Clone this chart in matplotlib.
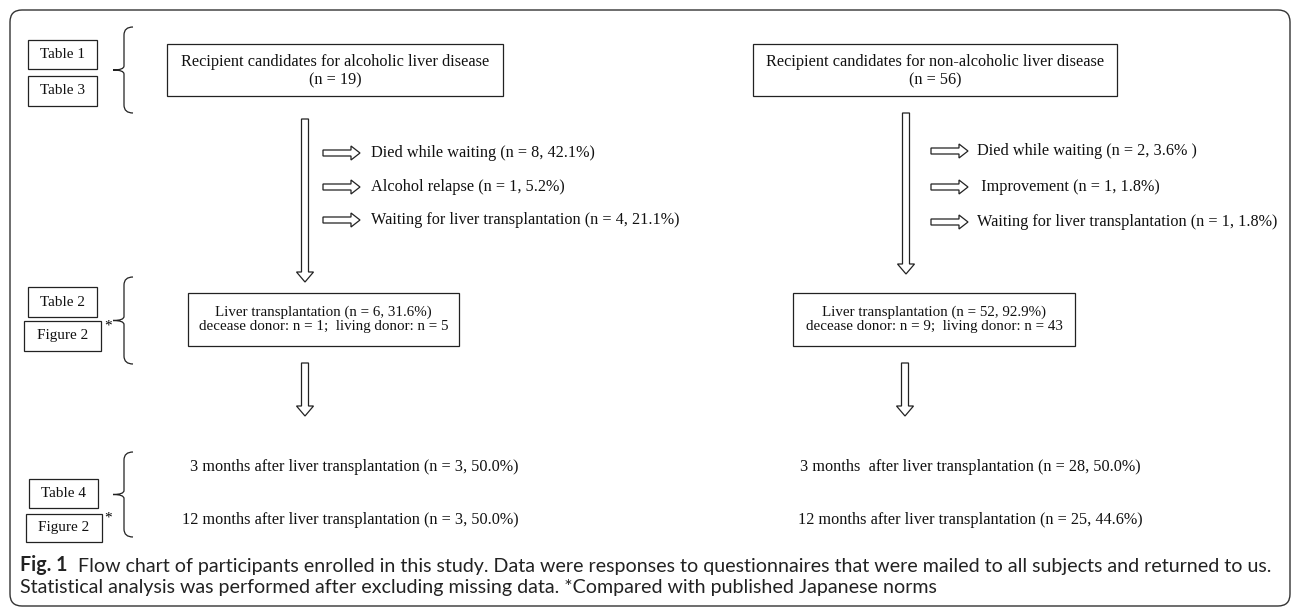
import matplotlib
matplotlib.use('Agg')
import matplotlib.pyplot as plt
from matplotlib.patches import Rectangle, FancyArrow, FancyBboxPatch, PathPatch
from matplotlib.path import Path

# flow chart content
top_boxes = ["Recipient candidates for alcoholic liver disease\n(n = 19)",
             "Recipient candidates for non\u2010alcoholic liver disease\n(n = 56)"]
alc_outcomes = ["Died while waiting (n = 8, 42.1%)",
                "Alcohol relapse (n = 1, 5.2%)",
                "Waiting for liver transplantation (n = 4, 21.1%)"]
nonalc_outcomes = ["Died while waiting (n = 2, 3.6% )",
                   " Improvement (n = 1, 1.8%)",
                   "Waiting for liver transplantation (n = 1, 1.8%)"]
lt_boxes = ["Liver transplantation (n = 6, 31.6%)\ndecease donor: n = 1;  living donor: n = 5",
            "Liver transplantation (n = 52, 92.9%)\ndecease donor: n = 9;  living donor: n = 43"]
followup_alc = ["3 months after liver transplantation (n = 3, 50.0%)",
                "12 months after liver transplantation (n = 3, 50.0%)"]
followup_nonalc = ["3 months  after liver transplantation (n = 28, 50.0%)",
                   "12 months after liver transplantation (n = 25, 44.6%)"]
side_labels = [["Table 1", "Table 3"], ["Table 2", "Figure 2"], ["Table 4", "Figure 2"]]
caption_bold = "Fig. 1"
caption_rest = ("  Flow chart of participants enrolled in this study. Data were responses to questionnaires "
                "that were mailed to all subjects and returned to us.")
caption_line2 = ("Statistical analysis was performed after excluding missing data. "
                 "*Compared with published Japanese norms")

SERIF = 'Liberation Serif'
INK = '#111111'
W, H = 1292, 609
fig = plt.figure(figsize=(W / 100, H / 100), dpi=100)
ax = fig.add_axes([0, 0, 1, 1])
ax.set_xlim(0, W)
ax.set_ylim(H, 0)
ax.axis('off')

LW = 0.9


def box(x0, y0, x1, y1, text=None, size=11.7, ls=1.05, dy=0):
    ax.add_patch(Rectangle((x0, y0), x1 - x0, y1 - y0, fill=False, ec='#222222', lw=LW))
    if text:
        ax.text((x0 + x1) / 2, (y0 + y1) / 2 + dy, text, ha='center', va='center',
                family=SERIF, fontsize=size, linespacing=ls, color=INK)


def down_arrow(x, y0, y1):
    ax.add_patch(FancyArrow(x, y0, 0, y1 - y0, width=7, head_width=17, head_length=10,
                            length_includes_head=True, fc='white', ec='#222222', lw=LW))


def right_arrow(x, y, length=37):
    ax.add_patch(FancyArrow(x, y, length, 0, width=6, head_width=14, head_length=9,
                            length_includes_head=True, fc='white', ec='#222222', lw=LW))


def brace(top, bot, x_tip=113, x_mid=124, x_end=133):
    mid = (top + bot) / 2
    verts = [(x_end, top), (x_mid, top), (x_mid, top + 8),
             (x_mid, mid - 4), (x_mid, mid), (x_tip, mid),
             (x_tip, mid), (x_mid, mid), (x_mid, mid + 4),
             (x_mid, bot - 8), (x_mid, bot), (x_end, bot)]
    codes = [Path.MOVETO, Path.CURVE3, Path.CURVE3,
             Path.LINETO, Path.CURVE3, Path.CURVE3,
             Path.MOVETO, Path.CURVE3, Path.CURVE3,
             Path.LINETO, Path.CURVE3, Path.CURVE3]
    ax.add_patch(PathPatch(Path(verts, codes), fill=False, ec='#222222', lw=LW))


# outer frame
ax.add_patch(FancyBboxPatch((10, 10), 1280, 596, boxstyle='round,pad=0,rounding_size=12',
                            fill=False, ec='#333333', lw=1.0))

# left side reference boxes
box(28, 40, 97, 69, side_labels[0][0], 11)
box(28, 76, 97, 106, side_labels[0][1], 11)
brace(27, 113)
box(28, 287, 97, 317, side_labels[1][0], 11)
box(24, 321, 101, 351, side_labels[1][1], 11)
ax.text(104, 326, '*', family=SERIF, fontsize=11, va='center', ha='left')
brace(277, 364)
box(29, 479, 98, 508, side_labels[2][0], 11)
box(26, 514, 102, 542, side_labels[2][1], 11)
ax.text(104, 518, '*', family=SERIF, fontsize=11, va='center', ha='left')
brace(452, 537)

# top boxes
box(167, 44, 503, 96, top_boxes[0], ls=1.2, dy=1.5)
box(753, 44, 1117, 96, top_boxes[1], ls=1.2, dy=1.5)

# main arrows
down_arrow(305, 119, 282)
down_arrow(906, 113, 274)
down_arrow(305, 363, 416)
down_arrow(905, 363, 416)

# exits while waiting
for y, lab in zip([153, 187, 220], alc_outcomes):
    right_arrow(323, y)
    ax.text(371, y, lab, family=SERIF, fontsize=11.7, va='center', ha='left', color=INK)
for y, lab in zip([151, 187, 222], nonalc_outcomes):
    right_arrow(931, y)
    ax.text(977, y, lab, family=SERIF, fontsize=11.7, va='center', ha='left', color=INK)

# transplantation boxes
box(188, 293, 459, 346, lt_boxes[0], 10.8, ls=1.1)
box(793, 293, 1075, 346, lt_boxes[1], 10.8, ls=1.1)

# follow-up
for (x, y), lab in zip([(190, 467), (182, 520)], followup_alc):
    ax.text(x, y, lab, family=SERIF, fontsize=11.7, va='center', ha='left', color=INK)
for (x, y), lab in zip([(800, 467), (798, 520)], followup_nonalc):
    ax.text(x, y, lab, family=SERIF, fontsize=11.7, va='center', ha='left', color=INK)

# caption
t1 = ax.text(20, 565, caption_bold, family='Lato', weight='bold', fontsize=14.1,
             va='center', ha='left', color='#222222')
ax.annotate(caption_rest, xy=(1, 0), xycoords=t1, va='bottom', ha='left',
            family='Lato', fontsize=14.1, color='#222222')
ax.text(20, 588, caption_line2, family='Lato', fontsize=14.1, va='center', ha='left', color='#222222')

fig.savefig('out.png', dpi=100)
